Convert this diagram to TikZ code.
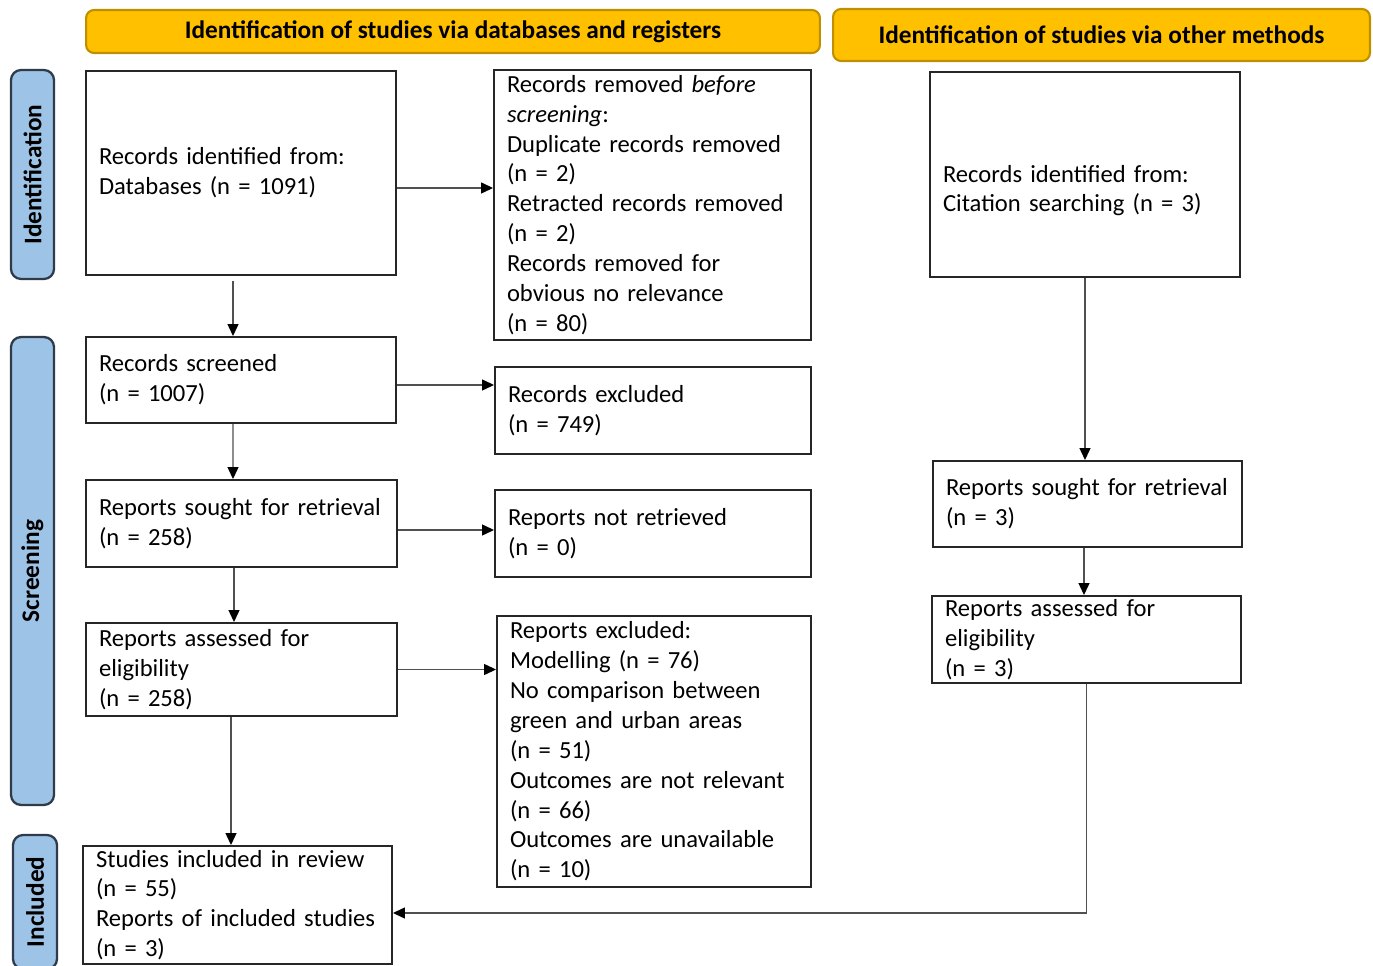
\documentclass[tikz,border=0pt]{standalone}
\usepackage{fontspec}
\setmainfont{Carlito}
\usetikzlibrary{arrows.meta}
\definecolor{headorange}{HTML}{FFC000}
\definecolor{headedge}{HTML}{BF8F00}
\definecolor{phaseblue}{HTML}{9DC3E6}
\definecolor{phaseedge}{HTML}{2F3B4A}
\definecolor{boxedge}{HTML}{262626}
\definecolor{linegray}{HTML}{505050}
\tikzset{
    flow box/.style 2 args={
        draw=boxedge, line width=1.1pt, align=left,
        inner xsep=0.26cm, inner ysep=0pt,
        text width=#1, minimum height=#2,
        font=\fontsize{14}{17}\selectfont
    },
    phase head/.style={
        draw=headedge, fill=headorange, line width=1.2pt, rounded corners=0.16cm,
        inner sep=0pt, font=\fontsize{14.4}{17}\selectfont\bfseries
    },
    stage label/.style={
        draw=phaseedge, fill=phaseblue, line width=1.3pt, rounded corners=0.2cm,
        rotate=90, inner sep=0pt, font=\fontsize{14.4}{17}\selectfont\bfseries
    },
    flow arrow/.style={
        draw=linegray, line width=0.8pt, -{Triangle[length=6.8pt,width=6.2pt,color=black]}
    },
}
\begin{document}
\begin{tikzpicture}[x=0.02cm, y=-0.02cm]
    \useasboundingbox (0,0) rectangle (1373,966);
    \clip (0,0) rectangle (1373,966);
    % headers
    \node[phase head, minimum width=14.68cm, minimum height=0.86cm] (headdb) at (453,31.5) {Identification of studies via databases and registers};
    \node[phase head, minimum width=10.74cm, minimum height=1.04cm] (headother) at (1101.5,35) {Identification of studies via other methods};
    % stages
    \node[stage label, minimum width=4.18cm, minimum height=0.86cm] (stageid) at (32.5,174.5) {Identification};
    \node[stage label, minimum width=9.36cm, minimum height=0.86cm] (stagescr) at (32.5,571) {Screening};
    \node[stage label, minimum width=2.68cm, minimum height=0.88cm] (stageinc) at (35,902) {Included};
    % databases and registers
    \node[flow box={5.68cm}{4.08cm}] (recid) at (241,173) {Records identified from:\\Databases (n = 1091)};
    \node[flow box={5.82cm}{5.4cm}] (removed) at (652.5,205) {Records removed \textit{before}\\\textit{screening}:\\Duplicate records removed\\(n = 2)\\Retracted records removed\\(n = 2)\\Records removed for\\obvious no relevance\\(n = 80)};
    \node[flow box={5.68cm}{1.72cm}] (screened) at (241,380) {Records screened\\(n = 1007)};
    \node[flow box={5.8cm}{1.74cm}] (excluded) at (653,410.5) {Records excluded\\(n = 749)};
    \node[flow box={5.7cm}{1.74cm}] (sought) at (241.5,523.5) {Reports sought for retrieval\\(n = 258)};
    \node[flow box={5.8cm}{1.74cm}] (notretr) at (653,533.5) {Reports not retrieved\\(n = 0)};
    \node[flow box={5.7cm}{1.86cm}] (assessed) at (241.5,669.5) {Reports assessed for\\eligibility\\(n = 258)};
    \node[flow box={5.76cm}{5.42cm}] (repexcl) at (654,751.5) {Reports excluded:\\Modelling (n = 76)\\No comparison between\\green and urban areas\\(n = 51)\\Outcomes are not relevant\\(n = 66)\\Outcomes are unavailable\\(n = 10)};
    \node[flow box={5.66cm}{2.36cm}] (included) at (237.5,905) {Studies included in review\\(n = 55)\\Reports of included studies\\(n = 3)};
    % other methods
    \node[flow box={5.68cm}{4.1cm}] (citeid) at (1085,174.5) {\mbox{}\\[11pt]Records identified from:\\Citation searching (n = 3)};
    \node[flow box={5.66cm}{1.72cm}] (othsought) at (1087.5,504) {Reports sought for retrieval\\(n = 3)};
    \node[flow box={5.66cm}{1.74cm}] (othassessed) at (1086.5,639.5) {Reports assessed for\\eligibility\\(n = 3)};
    % connectors
    \draw[flow arrow] ([yshift=-0.3cm]recid.east) -- ([yshift=-0.3cm]recid.east -| removed.west);
    \draw[flow arrow] ([xshift=-0.16cm, yshift=-0.1cm]recid.south) -- ([xshift=-0.16cm]screened.north);
    \draw[flow arrow] ([yshift=-0.1cm]screened.east) -- ([yshift=-0.1cm]screened.east -| excluded.west);
    \draw[flow arrow] ([xshift=-0.16cm]screened.south) -- ([xshift=-0.17cm]sought.north);
    \draw[flow arrow] ([yshift=-0.13cm]sought.east) -- ([yshift=-0.13cm]sought.east -| notretr.west);
    \draw[flow arrow] ([xshift=-0.15cm]sought.south) -- ([xshift=-0.15cm]assessed.north);
    \draw[flow arrow] (assessed.east) -- (assessed.east -| repexcl.west);
    \draw[flow arrow] ([xshift=-0.21cm]assessed.south) -- ([xshift=-0.21cm]assessed.south |- included.north);
    \draw[flow arrow] (citeid.south) -- (citeid.south |- othsought.north);
    \draw[flow arrow] ([xshift=-0.07cm]othsought.south) -- ([xshift=-0.07cm]othsought.south |- othassessed.north);
    \draw[flow arrow] (othassessed.south) |- ([yshift=-0.16cm]included.east);
\end{tikzpicture}
\end{document}
